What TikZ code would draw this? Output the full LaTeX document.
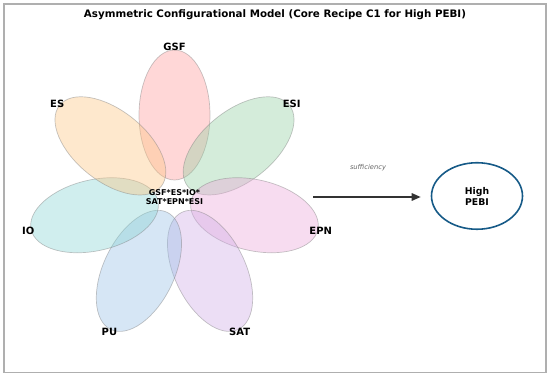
\documentclass[tikz,border=0pt]{standalone}
\usepackage{fontspec}
\setmainfont{DejaVu Sans}
\usetikzlibrary{shapes.geometric,arrows.meta,calc}
\definecolor{tred}{RGB}{255,155,155}
\definecolor{torange}{RGB}{252,197,130}
\definecolor{tgreen}{RGB}{147,207,162}
\definecolor{tcyan}{RGB}{137,212,212}
\definecolor{tblue}{RGB}{152,192,230}
\definecolor{tpurple}{RGB}{207,172,230}
\definecolor{tpink}{RGB}{235,167,217}
\definecolor{framegray}{RGB}{175,175,175}
\definecolor{arrowgray}{RGB}{51,51,51}
\definecolor{pebiblue}{RGB}{22,90,135}
\tikzset{
  petal/.style={ellipse, inner sep=0pt, minimum width=130pt, minimum height=71pt,
    fill=#1, fill opacity=0.4, draw=gray, draw opacity=0.45, line width=0.7pt},
  petallabel/.style={font=\fontsize{10}{12}\selectfont\bfseries, text=black, inner sep=0pt},
  centertext/.style={font=\fontsize{8}{9.5}\selectfont\bfseries, align=center, inner sep=0pt},
  outcome/.style={ellipse, draw=pebiblue, line width=1.6pt, inner sep=0pt,
    minimum width=91pt, minimum height=66.5pt, align=center,
    font=\fontsize{9.3}{11}\selectfont\bfseries},
  flowarrow/.style={draw=arrowgray, line width=1.6pt, -{Triangle[length=9pt,width=7.5pt]}},
  smalllabel/.style={font=\fontsize{6.7}{8}\selectfont\itshape, text=black!60, inner sep=0pt},
  titlestyle/.style={font=\fontsize{10.3}{12}\selectfont\bfseries, inner sep=0pt}
}
\begin{document}
\begin{tikzpicture}[x=1pt,y=1pt]
\useasboundingbox (0,0) rectangle (550,377);
\draw[framegray, line width=1.2pt] (4,373) rectangle (546,4.5);
\node[titlestyle] (title) at (275,362) {Asymmetric Configurational Model (Core Recipe C1 for High PEBI)};
\coordinate (fc) at (174.5,180);
% petals
\node[petal=tred,    rotate=90]       (pGSF) at ($(fc)+(90:82)$) {};
\node[petal=tgreen,  rotate=38.571]   (pESI) at ($(fc)+(38.571:82)$) {};
\node[petal=tpink,   rotate=-12.857]  (pEPN) at ($(fc)+(-12.857:82)$) {};
\node[petal=tpurple, rotate=-64.286]  (pSAT) at ($(fc)+(-64.286:82)$) {};
\node[petal=tblue,   rotate=244.286]  (pPU)  at ($(fc)+(244.286:82)$) {};
\node[petal=tcyan,   rotate=192.857]  (pIO)  at ($(fc)+(192.857:82)$) {};
\node[petal=torange, rotate=141.429]  (pES)  at ($(fc)+(141.429:82)$) {};
% labels
\node[petallabel] (lGSF) at ($(fc)+(90:150)$) {GSF};
\node[petallabel] (lESI) at ($(fc)+(38.571:150)$) {ESI};
\node[petallabel] (lEPN) at ($(fc)+(-12.857:150)$) {EPN};
\node[petallabel] (lSAT) at ($(fc)+(-64.286:150)$) {SAT};
\node[petallabel] (lPU)  at ($(fc)+(244.286:150)$) {PU};
\node[petallabel] (lIO)  at ($(fc)+(192.857:150)$) {IO};
\node[petallabel] (lES)  at ($(fc)+(141.429:150)$) {ES};
\node[centertext] (core) at (fc) {GSF*ES*IO*\\SAT*EPN*ESI};
% outcome
\node[outcome] (pebi) at (477,181) {High\\PEBI};
\coordinate (astart) at (313,180);
\draw[flowarrow, shorten >=10pt] (astart) -- (astart -| pebi.west);
\node[smalllabel] (suff) at (368,209) {sufficiency};
\end{tikzpicture}
\end{document}
